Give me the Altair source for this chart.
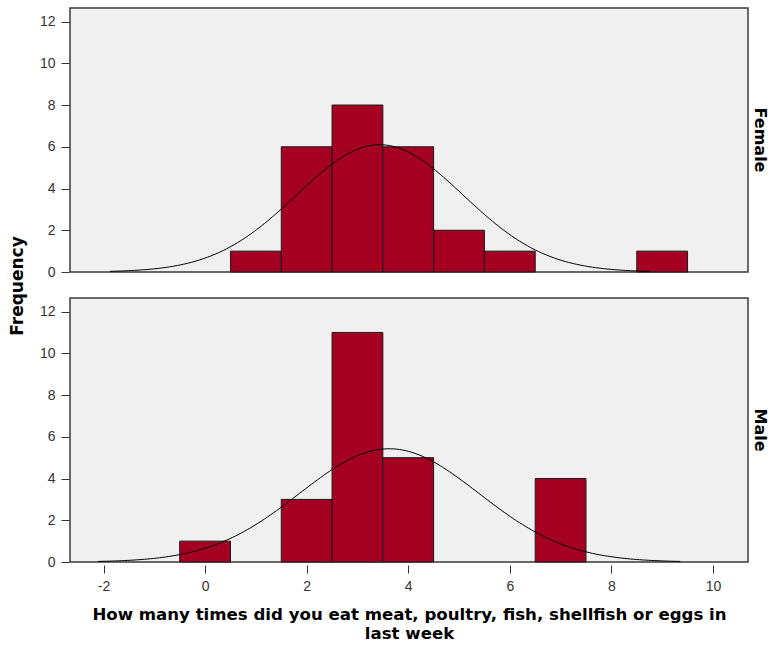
import altair as alt
import numpy as np
import pandas as pd

# Weekly counts of meat/poultry/fish/shellfish/egg meals, by sex (bin width 1)
sexes = ["Female", "Male"]
female_values = [1, 2, 3, 4, 5, 6, 9]
female_freq = [1, 6, 8, 6, 2, 1, 1]
male_values = [0, 2, 3, 4, 7]
male_freq = [1, 3, 11, 5, 4]

x_ticks = [-2, 0, 2, 4, 6, 8, 10]
y_ticks = [0, 2, 4, 6, 8, 10, 12]
x_title = ["How many times did you eat meat, poultry, fish, shellfish or eggs in", "last week"]

groups = {"Female": (female_values, female_freq), "Male": (male_values, male_freq)}

rows = []
for sex in sexes:
    vals, freq = groups[sex]
    v = np.array(vals, dtype=float)
    f = np.array(freq, dtype=float)
    for val, cnt in zip(vals, freq):
        rows.append({"sex": sex, "kind": "bar", "lo": val - 0.5, "hi": val + 0.5, "freq": cnt})
    # normal curve fitted to the group's mean and standard deviation
    n = f.sum()
    mean = (v * f).sum() / n
    sd = np.sqrt(((v - mean) ** 2 * f).sum() / (n - 1))
    xs = np.linspace(mean - 3.25 * sd, mean + 3.25 * sd, 200)
    ys = n * np.exp(-0.5 * ((xs - mean) / sd) ** 2) / (sd * np.sqrt(2 * np.pi))
    for cx, cy in zip(xs, ys):
        rows.append({"sex": sex, "kind": "curve", "lo": cx, "hi": cx, "freq": cy})

df = pd.DataFrame(rows)

title_font = "DejaVu Sans"

x_scale = alt.Scale(domain=[-2.66, 10.69], nice=False, zero=False)
y_scale = alt.Scale(domain=[0, 12.65], nice=False)

x_axis = alt.Axis(values=x_ticks, title=x_title, grid=False, domain=False,
                  labelExpr="toString(datum.value)",
                  tickSize=8, tickColor="#333", labelPadding=6, labelFontSize=14,
                  labelColor="#333", titleFont=title_font, titleFontSize=16.6,
                  titleFontWeight="bold", titleColor="#000", titlePadding=13,
                  titleLineHeight=19, labelFlush=False)
y_axis = alt.Axis(values=y_ticks, title=None, grid=False, domain=False,
                  tickSize=8, tickColor="#333", labelPadding=6, labelFontSize=14,
                  labelColor="#333")

bars = alt.Chart().transform_filter(alt.datum.kind == "bar").mark_rect(
    color="#a50021", stroke="#1a1a1a", strokeWidth=1
).encode(
    x=alt.X("lo:Q", scale=x_scale, axis=x_axis),
    x2="hi:Q",
    y=alt.Y("freq:Q", scale=y_scale, axis=y_axis),
    y2=alt.datum(0),
)

curve = alt.Chart().transform_filter(alt.datum.kind == "curve").mark_line(
    color="#000", strokeWidth=1
).encode(
    x=alt.X("lo:Q", scale=x_scale),
    y=alt.Y("freq:Q", scale=y_scale),
)

chart = alt.layer(bars, curve, data=df).properties(width=678, height=264).facet(
    row=alt.Row("sex:N", sort=sexes, title="Frequency",
                header=alt.Header(labelOrient="right", labelAngle=90,
                                  labelFont=title_font, labelFontSize=16,
                                  labelFontWeight="bold", labelColor="#000",
                                  labelPadding=3,
                                  titleOrient="left", titleAngle=-90,
                                  titleFont=title_font, titleFontSize=17,
                                  titleFontWeight="bold", titleColor="#000",
                                  titlePadding=-15))
).properties(
    spacing=22,
    padding={"left": 8, "top": 7, "right": 6, "bottom": 5},
).configure(
    font="Liberation Sans",
).configure_view(
    fill="#f0f0f0", stroke="#3a3a3a", strokeWidth=1.5
)

chart.save("out.html", embed_options={"renderer": "svg", "actions": False})
